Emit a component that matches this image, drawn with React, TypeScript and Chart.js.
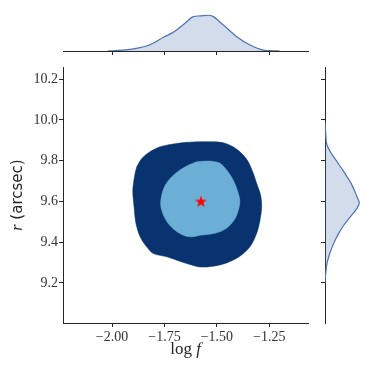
import React, { useEffect, useRef } from "react";
import { Chart, registerables } from "chart.js";

Chart.register(...registerables);

// ---------- data ----------
const xTicks = [-2.0, -1.75, -1.5, -1.25];
const yTicks = [9.2, 9.4, 9.6, 9.8, 10.0, 10.2];
const xMin = -2.234;
const xMax = -1.065;
const yMin = 9.003;
const yMax = 10.26;

// outer (95%) contour
const outerLogF = [-1.882, -1.89, -1.901, -1.895, -1.886, -1.866, -1.835, -1.803, -1.739, -1.691, -1.644, -1.58, -1.517, -1.453, -1.39, -1.342, -1.31, -1.294, -1.286, -1.291, -1.307, -1.326, -1.35, -1.382, -1.422, -1.469, -1.517, -1.58, -1.644, -1.708, -1.771, -1.819, -1.858];
const outerR = [9.77, 9.738, 9.656, 9.573, 9.492, 9.426, 9.377, 9.344, 9.328, 9.311, 9.295, 9.278, 9.282, 9.298, 9.331, 9.377, 9.443, 9.508, 9.573, 9.631, 9.68, 9.738, 9.795, 9.836, 9.868, 9.888, 9.893, 9.893, 9.89, 9.882, 9.868, 9.844, 9.811];

// inner (68%) contour
const innerLogF = [-1.596, -1.533, -1.485, -1.453, -1.422, -1.397, -1.39, -1.397, -1.413, -1.445, -1.485, -1.533, -1.58, -1.62, -1.66, -1.7, -1.732, -1.755, -1.768, -1.763, -1.746, -1.715, -1.676, -1.636];
const innerR = [9.795, 9.798, 9.787, 9.754, 9.705, 9.639, 9.598, 9.557, 9.516, 9.475, 9.451, 9.439, 9.434, 9.426, 9.434, 9.459, 9.492, 9.533, 9.582, 9.631, 9.68, 9.721, 9.754, 9.778];

// best fit
const bestLogF = -1.576;
const bestR = 9.6;

// marginal KDEs
const topLogF = [-2.02, -1.994, -1.898, -1.811, -1.755, -1.708, -1.652, -1.612, -1.58, -1.541, -1.517, -1.469, -1.405, -1.342, -1.278, -1.231, -1.2];
const topDensity = [0.0, 0.02, 0.15, 0.51, 1.0, 1.36, 2.02, 2.5, 2.55, 2.6, 2.5, 1.89, 1.04, 0.44, 0.07, 0.02, 0.0];
const topDensityMax = 3.71;

const rightR = [9.2, 9.246, 9.295, 9.344, 9.394, 9.443, 9.483, 9.524, 9.566, 9.593, 9.623, 9.68, 9.746, 9.795, 9.844, 9.877, 9.934, 9.991];
const rightDensity = [0.0, 0.05, 0.14, 0.34, 0.62, 0.98, 1.34, 1.81, 2.28, 2.45, 2.28, 1.93, 1.34, 0.86, 0.38, 0.14, 0.05, 0.0];
const rightDensityMax = 3.5;

// ---------- styles ----------
const W = 374;
const H = 374;
const AREA = { left: 63, right: 308, top: 67, bottom: 323 };
const SPINE = "#262626";
const TEXT = "#333333";
const DARK = "#08336e";
const LIGHT = "#6baed6";
const KDE_LINE = "#4c72b0";
const KDE_FILL = "rgba(76,114,176,0.25)";
const SERIF = '"Liberation Serif", "DejaVu Serif", serif';
const SANS = '"DejaVu Sans", sans-serif';

const fmtMinus = (s: string) => s.replace("-", "\u2212");

function makeStar(): HTMLCanvasElement {
  const size = 14;
  const c = document.createElement("canvas");
  c.width = size;
  c.height = size;
  const ctx = c.getContext("2d")!;
  const cx = size / 2;
  const cy = size / 2 + 0.5;
  const ro = 6.2;
  const ri = 2.5;
  ctx.beginPath();
  for (let i = 0; i < 10; i++) {
    const r = i % 2 === 0 ? ro : ri;
    const a = -Math.PI / 2 + (i * Math.PI) / 5;
    const px = cx + r * Math.cos(a);
    const py = cy + r * Math.sin(a);
    if (i === 0) ctx.moveTo(px, py);
    else ctx.lineTo(px, py);
  }
  ctx.closePath();
  ctx.fillStyle = "#ff0000";
  ctx.fill();
  return c;
}

const closed = (xs: number[], ys: number[]) => {
  const pts = xs.map((x, i) => ({ x, y: ys[i] }));
  pts.push({ ...pts[0] });
  return pts;
};

const titlePlugin = {
  id: "axisTitles",
  afterDraw(chart: any) {
    const { ctx, chartArea } = chart;
    ctx.save();
    ctx.fillStyle = "#262626";
    ctx.textBaseline = "alphabetic";
    ctx.textAlign = "left";
    // x title: log f
    const f1 = `17px ${SERIF}`;
    const f2 = `italic 17px ${SERIF}`;
    ctx.font = f1;
    const w1 = ctx.measureText("log ").width;
    ctx.font = f2;
    const w2 = ctx.measureText("f").width;
    const cx = (chartArea.left + chartArea.right) / 2;
    const x0 = cx - (w1 + w2) / 2;
    const by = chartArea.bottom + 31;
    ctx.font = f1;
    ctx.fillText("log ", x0, by);
    ctx.font = f2;
    ctx.fillText("f", x0 + w1, by);
    // y title: r (arcsec)
    const g1 = `italic 16px ${SERIF}`;
    const g2 = `15px ${SANS}`;
    ctx.font = g1;
    const v1 = ctx.measureText("r").width;
    ctx.font = g2;
    const v2 = ctx.measureText(" (arcsec)").width;
    const cy = (chartArea.top + chartArea.bottom) / 2;
    ctx.translate(chartArea.left - 41.5, cy);
    ctx.rotate(-Math.PI / 2);
    const s0 = -(v1 + v2) / 2;
    ctx.font = g1;
    ctx.fillText("r", s0, 0);
    ctx.font = g2;
    ctx.fillText(" (arcsec)", s0 + v1, 0);
    ctx.restore();
  },
};

export default function App() {
  const mainRef = useRef<HTMLCanvasElement>(null);
  const topRef = useRef<HTMLCanvasElement>(null);
  const rightRef = useRef<HTMLCanvasElement>(null);

  useEffect(() => {
    const charts: Chart[] = [];

    // ---- main joint panel ----
    charts.push(
      new Chart(mainRef.current!, {
        type: "scatter",
        data: {
          datasets: [
            {
              label: "best",
              data: [{ x: bestLogF, y: bestR }],
              pointStyle: makeStar() as any,
              pointRadius: 7,
              order: 0,
            } as any,
            {
              label: "inner",
              data: closed(innerLogF, innerR),
              showLine: true,
              fill: "shape",
              backgroundColor: LIGHT,
              borderColor: LIGHT,
              borderWidth: 0.5,
              pointRadius: 0,
              tension: 0.3,
              order: 1,
            } as any,
            {
              label: "outer",
              data: closed(outerLogF, outerR),
              showLine: true,
              fill: "shape",
              backgroundColor: DARK,
              borderColor: DARK,
              borderWidth: 0.5,
              pointRadius: 0,
              tension: 0.3,
              order: 2,
            } as any,
          ],
        },
        options: {
          animation: false,
          responsive: false,
          maintainAspectRatio: false,
          layout: { padding: { left: 0, top: AREA.top, right: W - AREA.right, bottom: 0 } },
          plugins: { legend: { display: false }, tooltip: { enabled: false } },
          scales: {
            x: {
              type: "linear",
              min: xMin,
              max: xMax,
              afterBuildTicks: (s: any) => {
                s.ticks = xTicks.map((v) => ({ value: v }));
              },
              afterFit: (s: any) => {
                s.height = H - AREA.bottom;
              },
              grid: { drawOnChartArea: false, drawTicks: true, tickLength: 4, color: SPINE, lineWidth: 1 },
              border: { display: true, color: SPINE, width: 1 },
              ticks: {
                autoSkip: false,
                maxRotation: 0,
                padding: 2,
                color: TEXT,
                font: { family: SERIF, size: 14 },
                callback: (v: any) => fmtMinus(Number(v).toFixed(2)),
              },
            },
            y: {
              type: "linear",
              min: yMin,
              max: yMax,
              afterBuildTicks: (s: any) => {
                s.ticks = yTicks.map((v) => ({ value: v }));
              },
              afterFit: (s: any) => {
                s.width = AREA.left;
              },
              grid: { drawOnChartArea: false, drawTicks: true, tickLength: 4, color: SPINE, lineWidth: 1 },
              border: { display: true, color: SPINE, width: 1 },
              ticks: {
                autoSkip: false,
                padding: 1,
                color: TEXT,
                font: { family: SERIF, size: 14 },
                callback: (v: any) => Number(v).toFixed(1),
              },
            },
          },
        } as any,
        plugins: [titlePlugin],
      })
    );

    // ---- top marginal ----
    charts.push(
      new Chart(topRef.current!, {
        type: "line",
        data: {
          datasets: [
            {
              data: topLogF.map((x, i) => ({ x, y: topDensity[i] })),
              borderColor: KDE_LINE,
              backgroundColor: KDE_FILL,
              borderWidth: 1.2,
              fill: "origin",
              pointRadius: 0,
              cubicInterpolationMode: "monotone",
            },
          ],
        },
        options: {
          animation: false,
          responsive: false,
          maintainAspectRatio: false,
          layout: { padding: { left: AREA.left, right: W - AREA.right, top: 0, bottom: H - 51 - 4 } },
          plugins: { legend: { display: false }, tooltip: { enabled: false } },
          scales: {
            x: {
              type: "linear",
              min: xMin,
              max: xMax,
              afterBuildTicks: (s: any) => {
                s.ticks = xTicks.map((v) => ({ value: v }));
              },
              afterFit: (s: any) => {
                s.height = 4;
              },
              grid: { drawOnChartArea: false, drawTicks: true, tickLength: 4, color: SPINE, lineWidth: 1 },
              border: { display: true, color: SPINE, width: 1 },
              ticks: { display: false },
            },
            y: { type: "linear", display: false, min: 0, max: topDensityMax },
          },
        } as any,
      })
    );

    // ---- right marginal ----
    charts.push(
      new Chart(rightRef.current!, {
        type: "line",
        data: {
          datasets: [
            {
              data: rightR.map((r, i) => ({ x: rightDensity[i], y: r })),
              borderColor: KDE_LINE,
              backgroundColor: KDE_FILL,
              borderWidth: 1.2,
              fill: "origin",
              pointRadius: 0,
              cubicInterpolationMode: "monotone",
            },
          ],
        },
        options: {
          indexAxis: "y",
          animation: false,
          responsive: false,
          maintainAspectRatio: false,
          layout: { padding: { left: 325 - 4, right: 0, top: AREA.top, bottom: H - AREA.bottom } },
          plugins: { legend: { display: false }, tooltip: { enabled: false } },
          scales: {
            y: {
              type: "linear",
              position: "left",
              min: yMin,
              max: yMax,
              afterBuildTicks: (s: any) => {
                s.ticks = yTicks.map((v) => ({ value: v }));
              },
              afterFit: (s: any) => {
                s.width = 4;
              },
              grid: { drawOnChartArea: false, drawTicks: true, tickLength: 4, color: SPINE, lineWidth: 1 },
              border: { display: true, color: SPINE, width: 1 },
              ticks: { display: false },
            },
            x: { type: "linear", display: false, min: 0, max: rightDensityMax },
          },
        } as any,
      })
    );

    return () => charts.forEach((c) => c.destroy());
  }, []);

  const cs: React.CSSProperties = { position: "absolute", left: 0, top: 0, width: W, height: H };
  return (
    <div style={{ position: "fixed", left: 0, top: 0, width: W, height: H, background: "#fff" }}>
      <canvas ref={topRef} width={W} height={H} style={cs} />
      <canvas ref={rightRef} width={W} height={H} style={cs} />
      <canvas ref={mainRef} width={W} height={H} style={cs} />
    </div>
  );
}
